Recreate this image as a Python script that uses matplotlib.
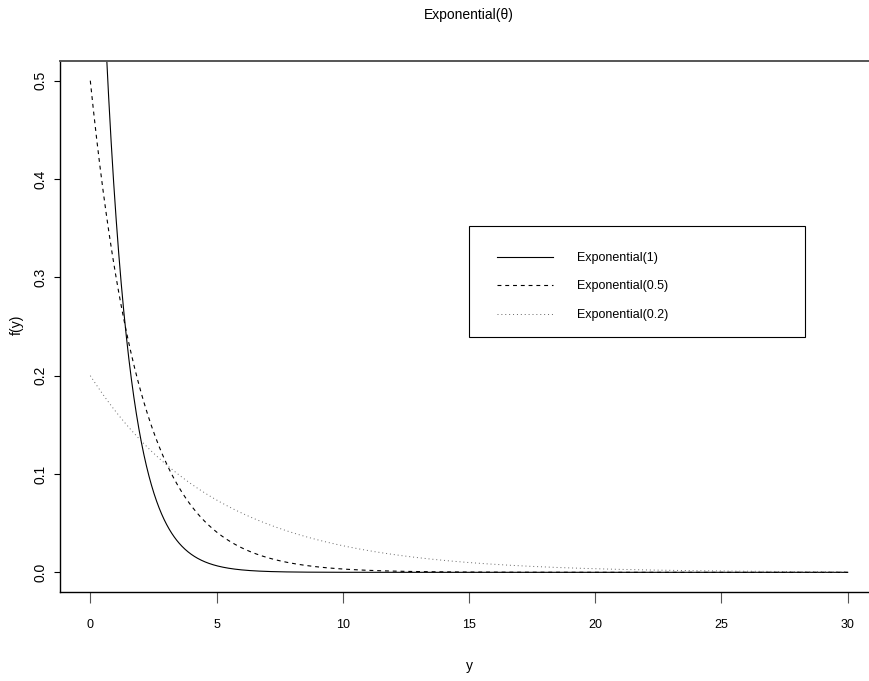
import numpy as np
import matplotlib
matplotlib.use("Agg")
import matplotlib.pyplot as plt
from matplotlib.patches import Rectangle

# rate parameters of the three exponential densities
rates = [1.0, 0.5, 0.2]
labels = ["Exponential(1)", "Exponential(0.5)", "Exponential(0.2)"]
x_ticks = [0, 5, 10, 15, 20, 25, 30]
y_ticks = [0.0, 0.1, 0.2, 0.3, 0.4, 0.5]

narrow = ["Liberation Sans Narrow", "Liberation Sans", "DejaVu Sans"]
regular = ["Liberation Sans", "DejaVu Sans"]

W, H = 869, 681
fig = plt.figure(figsize=(W / 100, H / 100), dpi=100)
# plot region runs past the right edge of the canvas
ax = fig.add_axes([60 / W, 1 - 592 / H, 818 / W, 531 / H])

y = np.linspace(0, 30, 1201)
styles = [
    dict(linestyle="-", color="black", lw=0.8),
    dict(linestyle=(0, (3.5, 3.5)), color="black", lw=0.8),
    dict(linestyle=(0, (1, 3)), color="#666666", lw=0.7),
]
for rate, label, st in zip(rates, labels, styles):
    ax.plot(y, rate * np.exp(-rate * y), label=label, **st)

ax.set_xlim(-1.2, 31.2)
ax.set_ylim(-0.02, 0.52)
ax.set_xticks(x_ticks)
ax.set_yticks(y_ticks)
ax.set_xticklabels([str(v) for v in x_ticks], family=narrow, fontsize=9)
ax.set_yticklabels([f"{v:.1f}" for v in y_ticks], family=regular, fontsize=10,
                   rotation=90, va="center")
ax.tick_params(axis="x", length=7.7, width=0.8, color="#555555", pad=12)
ax.tick_params(axis="y", length=4.3, width=0.8, color="black", pad=5)

for side in ["left", "top", "bottom", "right"]:
    ax.spines[side].set_linewidth(1.0)
    ax.spines[side].set_color("black")
ax.spines["top"].set_color("#555555")
ax.spines["top"].set_linewidth(1.4)

ax.set_title("Exponential(\u03b8)", family=narrow, fontsize=10, pad=30)
ax.set_xlabel("y", family=narrow, fontsize=10, va="center")
ax.xaxis.set_label_coords(0.5, -(666 - 592) / 531)
fig.text(17 / W, 1 - 325 / H, "f(y)", family=regular, fontsize=10,
         rotation=90, ha="center", va="center")

leg = ax.legend(loc="upper left", bbox_to_anchor=(497 / W, 1 - 252 / H),
                bbox_transform=fig.transFigure, frameon=False, borderpad=0,
                borderaxespad=0, handlelength=4.5, handletextpad=1.9,
                labelspacing=1.32, prop={"family": narrow, "size": 9})
fig.add_artist(Rectangle((469 / W, 1 - 337 / H), 336 / W, 111 / H,
                         transform=fig.transFigure, fill=False,
                         lw=0.8, ec="black"))

fig.savefig("out.png", dpi=100)
